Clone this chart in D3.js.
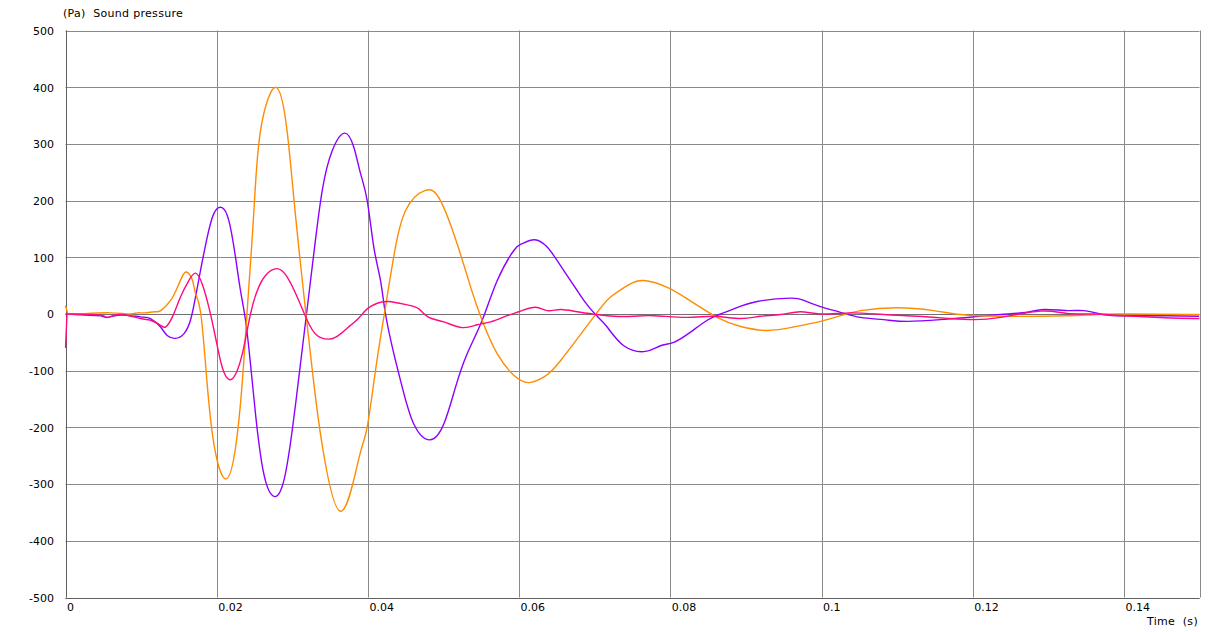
<!DOCTYPE html>
<html><head><meta charset="utf-8">
<script src="https://cdn.jsdelivr.net/npm/d3@7"></script>
<style>
html,body{margin:0;padding:0;background:#fff;}
text{font-family:"DejaVu Sans",Verdana,sans-serif;font-size:11px;fill:#000;white-space:pre;}
</style></head>
<body>
<svg id="chart" width="1222" height="632"></svg>
<script>
// ---- data ----
const xTicks = [0, 0.02, 0.04, 0.06, 0.08, 0.1, 0.12, 0.14];
const xTickLabels = ["0", "0.02", "0.04", "0.06", "0.08", "0.1", "0.12", "0.14"];
const yTicks = [-500, -400, -300, -200, -100, 0, 100, 200, 300, 400, 500];
const yTickLabels = ["-500", "-400", "-300", "-200", "-100", "0", "100", "200", "300", "400", "500"];
const yTitle = "(Pa)  Sound pressure";
const xTitle = "Time  (s)";

const seriesNames = ["purple", "orange", "pink"];

const purpleT = [0,0.00463,0.00556,0.00728,0.00992,0.01124,0.01257,0.01345,0.01455,0.01565,0.01653,0.0172,0.01786,0.01874,0.01962,0.02063,0.0216,0.02249,0.02315,0.02381,0.02447,0.02513,0.02623,0.02765,0.02888,0.02999,0.03108,0.03188,0.03284,0.03396,0.03528,0.0369,0.03814,0.03902,0.03991,0.04078,0.04167,0.04233,0.04343,0.04454,0.04607,0.04819,0.05004,0.05159,0.05313,0.05512,0.05711,0.0593,0.06041,0.06204,0.06372,0.06504,0.0668,0.06856,0.07011,0.07165,0.07385,0.07672,0.0787,0.08046,0.08267,0.08488,0.08664,0.0884,0.09149,0.0959,0.09766,0.09987,0.10251,0.10516,0.1082,0.11134,0.11574,0.11928,0.12368,0.12721,0.12941,0.1325,0.1347,0.13691,0.13912,0.14573,0.15];
const purpleV = [0,-3,-6,-2,-5,-8,-23,-38,-43,-35,-11,30,77,135,177,188,165,100,41,-11,-88,-176,-282,-322,-294,-205,-88,0,106,218,288,319,294,248,200,118,59,0,-70,-129,-194,-222,-194,-129,-70,-11,59,112,124,131,118,94,59,24,-1,-23,-56,-66,-56,-50,-32,-11,0,9,22,28,24,13,3,-6,-10,-13,-10,-6,-1,3,8,6,6,0,-3,-3,-4];

const orangeT = [0,0.0003,0.003,0.006,0.0085,0.0095,0.0105,0.0118,0.0126,0.0139,0.0148,0.0154,0.0160,0.0168,0.0172,0.0179,0.0187,0.0197,0.0212,0.0225,0.0234,0.0240,0.0249,0.0258,0.0278,0.0293,0.0304,0.0318,0.0328,0.0340,0.0364,0.0388,0.0399,0.0410,0.0421,0.0434,0.0450,0.0476,0.0496,0.0518,0.0536,0.0551,0.0571,0.0593,0.0613,0.0633,0.0655,0.0701,0.0721,0.0743,0.0765,0.0796,0.0822,0.0862,0.0893,0.0928,0.0963,0.0999,0.1025,0.1052,0.1100,0.1148,0.1184,0.1237,0.1325,0.1392,0.15];
const orangeV = [15,0,1,2,0,2,2,4,6,24,47,65,74,59,36,0,-117,-235,-291,-235,-117,0,177,324,400,324,177,0,-117,-235,-348,-255,-200,-100,-6,100,183,218,200,124,47,-11,-70,-108,-121,-111,-82,-1,30,50,59,47,27,-6,-22,-29,-23,-13,-3,6,11,6,-1,-4,-3,0,-1];

const pinkT = [0,0.0002,0.00463,0.00556,0.00728,0.00992,0.01124,0.01257,0.01323,0.01411,0.01521,0.01631,0.0172,0.01808,0.01896,0.01984,0.02073,0.02173,0.02271,0.02358,0.02447,0.02536,0.02646,0.028,0.02933,0.03065,0.03197,0.03329,0.03505,0.03638,0.0377,0.0388,0.03991,0.04123,0.04276,0.0452,0.04673,0.04806,0.05004,0.05247,0.05446,0.05622,0.05843,0.06019,0.06217,0.06372,0.06548,0.06768,0.07033,0.07253,0.07517,0.07782,0.08224,0.08575,0.08929,0.09193,0.09458,0.09722,0.09987,0.10384,0.1082,0.11266,0.11706,0.12015,0.12368,0.12897,0.1325,0.13602,0.14131,0.14921,0.15];
const pinkV = [-60,0,-2,-6,-1,-8,-11,-20,-23,-6,30,59,72,53,12,-41,-94,-116,-100,-59,0,41,68,80,65,30,-11,-38,-44,-35,-20,-7,9,19,22,16,9,-6,-14,-24,-19,-14,-3,5,12,6,8,4,-1,-4,-4,-3,-6,-4,-8,-4,-1,4,0,2,-1,-4,-8,-10,-6,5,1,0,-4,-8,-7];

const seriesColors = {purple: "#8c00ff", orange: "#ff8c00", pink: "#ff0a80"};

// ---- drawing ----
const svg = d3.select("#chart");
const x = d3.scaleLinear().domain([0, 0.15]).range([65.5, 1199.5]);
const y = d3.scaleLinear().domain([-500, 500]).range([597.5, 30.5]);

const grid = svg.append("g");
grid.selectAll("line.h").data(yTicks).enter().append("line")
  .attr("x1", x(0)).attr("x2", x(0.15))
  .attr("y1", d => Math.round(y(d)) + 0.5).attr("y2", d => Math.round(y(d)) + 0.5)
  .attr("stroke", d => (d === 0 ? "#707070" : "#8a8a8a")).attr("stroke-width", 1);
grid.selectAll("line.v").data(xTicks.concat([0.15])).enter().append("line")
  .attr("y1", y(500)).attr("y2", y(-500))
  .attr("x1", d => Math.round(x(d)) + 0.5).attr("x2", d => Math.round(x(d)) + 0.5)
  .attr("stroke", "#8a8a8a").attr("stroke-width", 1);
svg.append("line").attr("x1", Math.round(x(0)) + 0.5).attr("x2", Math.round(x(0)) + 0.5)
  .attr("y1", y(500)).attr("y2", y(-500)).attr("stroke", "#606060");
svg.append("line").attr("x1", x(0)).attr("x2", x(0.15))
  .attr("y1", Math.round(y(-500)) + 0.5).attr("y2", Math.round(y(-500)) + 0.5).attr("stroke", "#606060");

const fontFam = '"DejaVu Sans",Verdana,sans-serif';
const yAxis = d3.axisLeft(y).tickValues(yTicks).tickFormat((d, i) => yTickLabels[i]).tickSize(0).tickPadding(0);
const gy = svg.append("g").attr("transform", "translate(54,0)").call(yAxis);
gy.select(".domain").remove();
gy.selectAll("text").style("font-family", fontFam).style("font-size", "11px").attr("fill", "#000").attr("dy", "0.35em");

const xAxis = d3.axisBottom(x).tickValues(xTicks).tickFormat((d, i) => xTickLabels[i]).tickSize(0).tickPadding(0);
const gx = svg.append("g").attr("transform", "translate(0,603)").call(xAxis);
gx.select(".domain").remove();
gx.selectAll("text").style("font-family", fontFam).style("font-size", "11px").attr("fill", "#000")
  .attr("text-anchor", "start").attr("dx", "1").attr("dy", "0.71em");

svg.append("text").attr("x", 63).attr("y", 17).style("letter-spacing", "0.3px").text(yTitle);
svg.append("text").attr("x", 1198).attr("y", 625).attr("text-anchor", "end").style("letter-spacing", "0.3px").text(xTitle);

svg.append("clipPath").attr("id", "clip").append("rect")
  .attr("x", x(0) - 1).attr("y", y(500)).attr("width", x(0.15) - x(0) + 1).attr("height", y(-500) - y(500));
const smooth = d3.line().x(d => x(d[0])).y(d => y(d[1])).curve(d3.curveNatural);
const straight = d3.line().x(d => x(d[0])).y(d => y(d[1]));
const seriesData = {
  purple: purpleT.map((t, i) => [t, purpleV[i]]),
  orange: orangeT.map((t, i) => [t, orangeV[i]]),
  pink: pinkT.map((t, i) => [t, pinkV[i]])
};
const gs = svg.append("g").attr("clip-path", "url(#clip)");
seriesNames.forEach(name => {
  const data = seriesData[name];
  // initial onset step drawn straight, rest as smooth spline
  gs.append("path").datum(data.slice(0, 2))
    .attr("fill", "none").attr("stroke", seriesColors[name]).attr("stroke-width", 1.4)
    .attr("d", straight);
  gs.append("path").datum(data.slice(1))
    .attr("fill", "none").attr("stroke", seriesColors[name]).attr("stroke-width", 1.4)
    .attr("d", smooth);
});
</script>
</body></html>
